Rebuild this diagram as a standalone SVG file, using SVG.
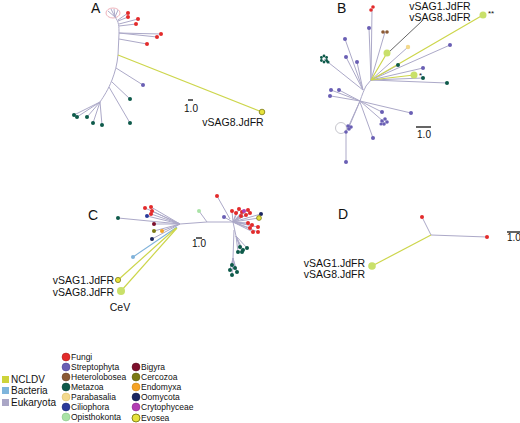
<svg xmlns="http://www.w3.org/2000/svg" width="520" height="423" viewBox="0 0 520 423">
<style>
text{font-family:"Liberation Sans",Arial,sans-serif;fill:#111}
.pl{font-size:14px}
.lb{font-size:10.5px}
.sc{font-size:10px}
.lg{font-size:8.5px}
.lg2{font-size:10px}
.e{stroke:#aca9c8;stroke-width:1;fill:none}
.n{stroke:#cdd64c;stroke-width:1.2;fill:none}
.b{stroke:#7fb2da;stroke-width:1.1;fill:none}
.bar{stroke:#111;stroke-width:1.3}
.fu{fill:#e32b2b}.st{fill:#6a5fb4}.he{fill:#8b5a35}.me{fill:#0e5a4a}.pa{fill:#f3d98c}
.ci{fill:#2b3a9a}.op{fill:#a9e3a6}.bi{fill:#7d0f2c}.ce{fill:#7b7a14}.en{fill:#f5a325}
.oo{fill:#1b2660}.cr{fill:#b23db3}.ev{fill:#e6e23c;stroke:#7b7a14;stroke-width:0.8}
.big{fill:#c9e06a}
.lgc{stroke-width:0.8;stroke-opacity:0.6}
</style>

<!-- Panel A -->
<g id="panelA">
<text class="pl" x="91" y="13">A</text>
<g id="A-connectors">
<ellipse cx="113" cy="13" rx="7" ry="5" fill="none" stroke="#e8a0aa" stroke-width="0.8"/>
<path class="e" d="M115,17 L108,11 M115,17 L111,9 M115,17 L114,9 M115,17 L118,10"/>
<path class="e" d="M115,17 C119,22 119,26 119,34 L118,55 C117,65 115,72 112,80 C108,90 104,96 100,102"/>
<path class="e" d="M118,20 L128,13 M118,21 L128,17 M119,24 L138,19 M119,26 L136,24 M119,33 L161,34 M119,33 L157,37 M119,39 L147,44 M116,68 L143,85 M112,82 L130,99 M109,87 L130,123 M100,102 L74,115 M100,102 L77,117 M100,102 L87,117 M100,102 L93,123 M100,102 L102,125"/>
<path class="n" d="M118,55 L262,112"/>
</g>
<g id="A-leaves">
<circle class="fu" cx="128" cy="13" r="2"/><circle class="fu" cx="128" cy="17" r="2"/>
<circle class="fu" cx="138" cy="19" r="2"/><circle class="fu" cx="136" cy="24" r="2"/>
<circle class="fu" cx="161" cy="34" r="2"/><circle class="fu" cx="157" cy="37" r="2"/>
<circle class="fu" cx="147" cy="44" r="2"/>
<circle class="st" cx="143" cy="85" r="2"/>
<circle class="me" cx="130" cy="99" r="2"/><circle class="me" cx="130" cy="123" r="2"/>
<circle class="me" cx="74" cy="115" r="2"/><circle class="me" cx="77" cy="117" r="2"/>
<circle class="me" cx="87" cy="117" r="2"/><circle class="me" cx="93" cy="123" r="2"/>
<circle class="me" cx="102" cy="125" r="2"/>
<circle class="ev" cx="262" cy="112" r="2.8"/>
</g>
<text class="lb" x="233" y="126" text-anchor="middle">vSAG8.JdFR</text>
<line class="bar" x1="188" y1="100" x2="193" y2="100"/>
<text class="sc" x="191" y="112" text-anchor="middle">1.0</text>
</g>

<!-- Panel B -->
<g id="panelB">
<text class="pl" x="337" y="13">B</text>
<g id="B-connectors">
<path class="e" d="M360,101 C362,95 364,90 366,86 L371,80"/>
<path class="e" d="M371,80 L372,9 M371,80 L369,28 M371,80 L385,32 M371,80 L408,47 M371,80 L398,65 M371,80 L423,68 M371,80 L423,78 M371,80 L447,83 M371,80 L450,45"/>
<path class="n" d="M371,80 L387,53 M371,80 L414,75 M371,80 L483,15"/>
<path class="e" d="M363,90 L324,59 M363,90 L345,39 M363,90 L346,57 M363,90 L357,62"/>
<path class="e" d="M360,101 L331,90 M360,101 L339,90 M360,101 L331,96"/>
<path class="e" d="M360,101 L382,112 M360,101 L411,113 M360,101 L384,122 M360,102 L373,138 M360,101 L349,127 M360,101 L346,132 L346,162"/>
<circle cx="341" cy="128" r="5.5" fill="none" stroke="#b8b8c0" stroke-width="0.8"/>
<line x1="389" y1="52" x2="422" y2="21" stroke="#222" stroke-width="0.7"/>
</g>
<g id="B-leaves">
<circle class="fu" cx="373" cy="7" r="1.8"/><circle class="fu" cx="371" cy="10" r="1.8"/>
<circle class="st" cx="369" cy="28" r="2"/>
<circle class="he" cx="383" cy="32" r="1.8"/><circle class="he" cx="387" cy="32" r="1.8"/>
<circle class="big" cx="387" cy="53" r="3.5"/>
<circle class="pa" cx="408" cy="47" r="2.2"/>
<circle class="big" cx="483" cy="15" r="3.5"/>
<text x="488" y="16" font-size="8">**</text>
<circle class="st" cx="450" cy="45" r="2"/>
<circle class="me" cx="398" cy="65" r="2"/>
<circle class="st" cx="423" cy="68" r="2"/>
<circle class="big" cx="414" cy="75" r="3.5"/>
<text x="419" y="78" font-size="8">*</text>
<circle class="me" cx="423" cy="78" r="2"/>
<circle class="me" cx="447" cy="83" r="2"/>
<circle class="st" cx="345" cy="39" r="2"/>
<circle class="st" cx="346" cy="57" r="2"/><circle class="st" cx="357" cy="62" r="2"/>
<circle class="me" cx="324" cy="56" r="1.4"/><circle class="me" cx="326.6" cy="57.5" r="1.4"/>
<circle class="me" cx="326.6" cy="60.5" r="1.4"/><circle class="me" cx="324" cy="62" r="1.4"/>
<circle class="me" cx="321.4" cy="60.5" r="1.4"/><circle class="me" cx="321.4" cy="57.5" r="1.4"/>
<circle class="me" cx="328" cy="62" r="1.6"/>
<circle class="st" cx="331" cy="90" r="2"/><circle class="st" cx="339" cy="90" r="2"/>
<circle class="st" cx="330" cy="96" r="2"/>
<circle class="st" cx="382" cy="112" r="2"/><circle class="st" cx="411" cy="113" r="2"/>
<circle class="st" cx="382" cy="121" r="1.8"/><circle class="st" cx="385" cy="119" r="1.8"/>
<circle class="st" cx="387" cy="122" r="1.8"/><circle class="st" cx="384" cy="124" r="1.8"/>
<circle class="st" cx="381" cy="124" r="1.6"/>
<circle class="st" cx="373" cy="138" r="2"/>
<circle class="st" cx="348" cy="126" r="1.8"/><circle class="st" cx="351" cy="127" r="1.8"/>
<circle class="st" cx="349" cy="129" r="1.8"/><circle class="st" cx="346" cy="132" r="1.8"/>
<circle class="st" cx="346" cy="162" r="2"/>
</g>
<text class="lb" x="440" y="10" text-anchor="middle">vSAG1.JdFR</text>
<text class="lb" x="440" y="21" text-anchor="middle">vSAG8.JdFR</text>
<line class="bar" x1="416" y1="127" x2="431" y2="127"/>
<text class="sc" x="424" y="138" text-anchor="middle">1.0</text>
</g>

<!-- Panel C -->
<g id="panelC">
<text class="pl" x="88" y="220">C</text>
<g id="C-connectors">
<path class="e" d="M180,224 L118,218 M180,224 L145,208 M180,224 L151,207 M180,224 L152,211 M180,224 L151,214 M180,224 L147,216 M180,224 L154,224 M180,224 L154,231 M180,224 L162,231 M180,224 L152,239"/>
<path class="b" d="M177,227 L133,257"/>
<path class="n" d="M176,228 L118,280 M177,228 L121,291"/>
<path class="e" d="M180,224 L207,222 L233,222 M207,222 L199,211 M230,219 L217,196"/>
<path class="e" d="M233,222 L224,217 M233,222 L232,211 M233,222 L236,213 M233,222 L239,209 M233,222 L242,212 M233,222 L244,211 M233,222 L248,210 M233,222 L250,213 M233,222 L241,216 M233,222 L246,215 M233,222 L261,214 M233,222 L259,218 M233,222 L248,223 M233,222 L252,225 M233,222 L250,228 M233,222 L258,227 M233,222 L253,232 M233,222 L258,232"/>
<path class="e" d="M233,222 L236,236 L240,247 M236,236 L243,250 M236,236 L247,248 M236,236 L242,252 M236,236 L238,252 M234,230 L233,258 L232,265 M233,258 L235,268 M233,258 L230,270 M233,258 L232,275 M233,258 L237,272"/>
</g>
<g id="C-leaves">
<circle class="me" cx="118" cy="218" r="2"/>
<circle class="fu" cx="145" cy="208" r="2"/><circle class="fu" cx="151" cy="207" r="2"/>
<circle class="fu" cx="152" cy="211" r="2"/><circle class="fu" cx="151" cy="214" r="2"/>
<circle class="ci" cx="147" cy="216" r="2"/>
<circle class="bi" cx="154" cy="224" r="2"/>
<circle class="ce" cx="154" cy="231" r="2"/>
<circle class="en" cx="162" cy="231" r="2"/>
<circle class="oo" cx="152" cy="239" r="2"/>
<circle cx="133" cy="257" r="2" fill="#7fb2da"/>
<circle class="ev" cx="118" cy="280" r="2.6"/>
<circle class="big" cx="121" cy="291" r="4"/>
<circle class="op" cx="199" cy="211" r="2"/>
<circle class="fu" cx="217" cy="196" r="2"/>
<circle class="st" cx="224" cy="217" r="2"/>
<circle class="fu" cx="232" cy="211" r="2"/><circle class="fu" cx="236" cy="213" r="2"/>
<circle class="fu" cx="239" cy="209" r="2"/><circle class="fu" cx="242" cy="212" r="2"/>
<circle class="cr" cx="244" cy="211" r="2"/><circle class="fu" cx="248" cy="210" r="2"/>
<circle class="fu" cx="250" cy="213" r="2"/><circle class="fu" cx="241" cy="216" r="2"/>
<circle class="fu" cx="246" cy="215" r="2"/>
<circle class="oo" cx="261" cy="214" r="2"/>
<circle class="ev" cx="259" cy="218" r="2.4"/>
<circle class="fu" cx="248" cy="223" r="2"/><circle class="fu" cx="252" cy="225" r="2"/>
<circle class="fu" cx="250" cy="228" r="2"/><circle class="fu" cx="258" cy="227" r="2"/>
<circle class="fu" cx="253" cy="232" r="2"/><circle class="fu" cx="258" cy="232" r="2"/>
<circle class="me" cx="240" cy="247" r="2"/><circle class="me" cx="243" cy="250" r="2"/>
<circle class="me" cx="247" cy="248" r="2"/><circle class="me" cx="242" cy="252" r="2"/>
<circle class="me" cx="238" cy="252" r="2"/>
<circle class="me" cx="232" cy="265" r="2"/><circle class="me" cx="235" cy="268" r="2"/>
<circle class="me" cx="230" cy="270" r="2"/><circle class="me" cx="232" cy="275" r="2"/>
<circle class="me" cx="237" cy="272" r="2"/>
</g>
<text class="lb" x="114" y="284" text-anchor="end">vSAG1.JdFR</text>
<text class="lb" x="114" y="296" text-anchor="end">vSAG8.JdFR</text>
<text class="lb" x="120" y="311" text-anchor="middle">CeV</text>
<line class="bar" x1="196" y1="238" x2="202" y2="238"/>
<text class="sc" x="199" y="247" text-anchor="middle">1.0</text>
</g>

<!-- Panel D -->
<g id="panelD">
<text class="pl" x="338" y="219">D</text>
<g id="D-connectors">
<path class="e" d="M431,235 L422,217 M431,235 L487,237"/>
<path class="n" d="M431,235 L372,266"/>
</g>
<g id="D-leaves">
<circle class="fu" cx="422" cy="217" r="2"/>
<circle class="fu" cx="487" cy="237" r="2"/>
<circle class="big" cx="372" cy="266" r="3.8"/>
</g>
<text class="lb" x="365" y="267" text-anchor="end">vSAG1.JdFR</text>
<text class="lb" x="365" y="278" text-anchor="end">vSAG8.JdFR</text>
<line class="bar" x1="507" y1="232" x2="520" y2="232"/>
<text class="sc" x="507" y="241">1.0</text>
</g>

<!-- Legend -->
<g id="legend">
<g id="lg-ncldv"><rect x="2" y="376" width="7" height="7" fill="#cdd33a"/><text class="lg2" x="11" y="383">NCLDV</text></g>
<g id="lg-bacteria"><rect x="2" y="387" width="7" height="7" fill="#7eb5dc"/><text class="lg2" x="11" y="394">Bacteria</text></g>
<g id="lg-eukaryota"><rect x="2" y="399" width="7" height="7" fill="#aaa6c6"/><text class="lg2" x="11" y="406">Eukaryota</text></g>

<g id="lg-fungi"><circle class="fu lgc" cx="66" cy="357" r="4" stroke="#a01818"/><text class="lg" x="71" y="360">Fungi</text></g>
<g id="lg-streptophyta"><circle class="st lgc" cx="66" cy="367" r="4" stroke="#453a8a"/><text class="lg" x="71" y="370">Streptophyta</text></g>
<g id="lg-heterolobosea"><circle class="he lgc" cx="66" cy="377" r="4" stroke="#5e3a20"/><text class="lg" x="71" y="380">Heterolobosea</text></g>
<g id="lg-metazoa"><circle class="me lgc" cx="66" cy="387" r="4" stroke="#063a30"/><text class="lg" x="71" y="390">Metazoa</text></g>
<g id="lg-parabasalia"><circle class="pa lgc" cx="66" cy="397" r="4" stroke="#d8b860"/><text class="lg" x="71" y="400">Parabasalia</text></g>
<g id="lg-ciliophora"><circle class="ci lgc" cx="66" cy="407" r="4" stroke="#1a2570"/><text class="lg" x="71" y="410">Ciliophora</text></g>
<g id="lg-opisthokonta"><circle class="op lgc" cx="66" cy="417" r="4" stroke="#80c080"/><text class="lg" x="71" y="420">Opisthokonta</text></g>

<g id="lg-bigyra"><circle class="bi lgc" cx="136" cy="367" r="4" stroke="#500818"/><text class="lg" x="141" y="370">Bigyra</text></g>
<g id="lg-cercozoa"><circle class="ce lgc" cx="136" cy="377" r="4" stroke="#55540a"/><text class="lg" x="141" y="380">Cercozoa</text></g>
<g id="lg-endomyxa"><circle class="en lgc" cx="136" cy="387" r="4" stroke="#c07a10"/><text class="lg" x="141" y="390">Endomyxa</text></g>
<g id="lg-oomycota"><circle class="oo lgc" cx="136" cy="397" r="4" stroke="#0e1640"/><text class="lg" x="141" y="400">Oomycota</text></g>
<g id="lg-crytophyceae"><circle class="cr lgc" cx="136" cy="407" r="4" stroke="#802080"/><text class="lg" x="141" y="410">Crytophyceae</text></g>
<g id="lg-evosea"><circle cx="136" cy="418" r="4" fill="#e6e23c" stroke="#7b7a14" stroke-width="0.9"/><text class="lg" x="141" y="421">Evosea</text></g>
</g>
</svg>
